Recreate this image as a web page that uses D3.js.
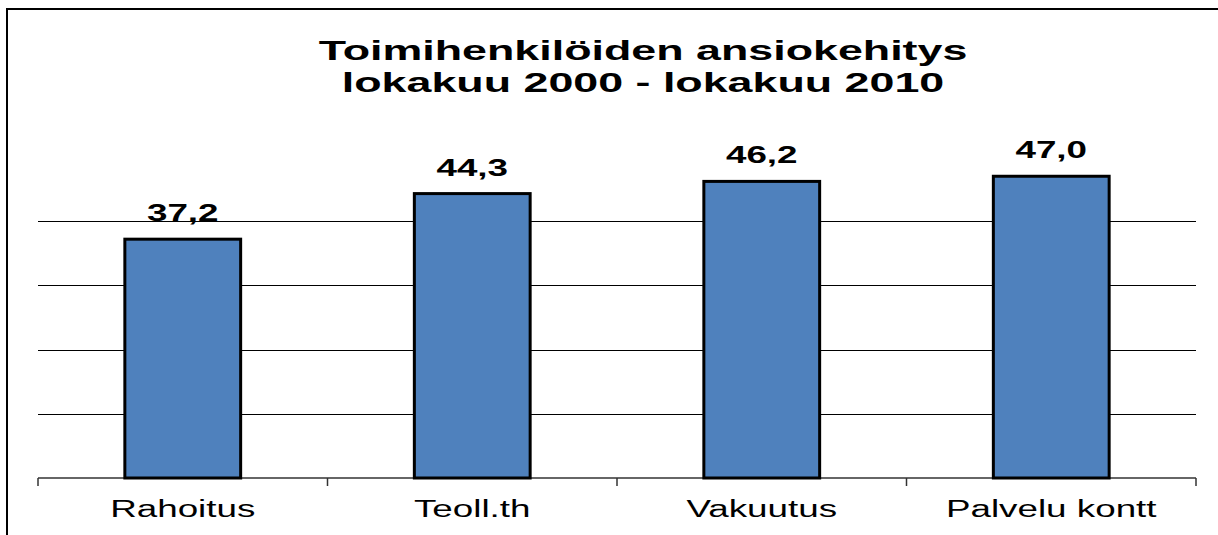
<!DOCTYPE html>
<html>
<head>
<meta charset="utf-8">
<script src="https://cdn.jsdelivr.net/npm/d3@7"></script>
<style>
  html, body { margin: 0; padding: 0; background: #fff; }
  svg { display: block; font-family: "Liberation Sans", Arial, sans-serif; }
</style>
</head>
<body>
<svg id="chart" width="1218" height="535"></svg>
<script>
const titleLines = ["Toimihenkilöiden ansiokehitys", "lokakuu 2000 - lokakuu 2010"];
const categories = ["Rahoitus", "Teoll.th", "Vakuutus", "Palvelu kontt"];
const values = [37.2, 44.3, 46.2, 47.0];
const gridValues = [10, 20, 30, 40];
const yDomain = [0, 50];

const svg = d3.select("#chart");
const W = 1218, H = 535;
const stretch = 1.6;

// outer border (left and top)
svg.append("path")
  .attr("d", `M7,${H} L7,9 L${W},9`)
  .attr("fill", "none")
  .attr("stroke", "#000")
  .attr("stroke-width", 2);

const x = d3.scaleBand().domain(categories).range([38, 1196]).paddingInner(0.6).paddingOuter(0.3);
const y = d3.scaleLinear().domain(yDomain).range([478, 157]);

// title
const tg = svg.append("g");
titleLines.forEach((t, i) => {
  tg.append("text")
    .attr("transform", `translate(643,${60 + i * 32}) scale(${stretch},1)`)
    .attr("text-anchor", "middle")
    .attr("font-size", 28)
    .attr("font-weight", "bold")
    .attr("fill", "#000")
    .text(t);
});

// gridlines
svg.append("g").selectAll("line").data(gridValues).join("line")
  .attr("x1", 38).attr("x2", 1196)
  .attr("y1", d => Math.round(y(d)) + 0.5).attr("y2", d => Math.round(y(d)) + 0.5)
  .attr("stroke", "#000").attr("stroke-width", 1);

// x axis baseline with ticks between categories
const tickPositions = categories.map(c => x(c) - x.step() * x.paddingInner() / 2 - (x.bandwidth() * 0) ).map((p, i) => 38 + i * x.step());
tickPositions.push(1196);
const axisG = svg.append("g");
axisG.append("line")
  .attr("x1", 38).attr("x2", 1196)
  .attr("y1", y(0)).attr("y2", y(0))
  .attr("stroke", "#333").attr("stroke-width", 1.5);
axisG.selectAll("line.tick").data(tickPositions).join("line")
  .attr("class", "tick")
  .attr("x1", d => d).attr("x2", d => d)
  .attr("y1", y(0)).attr("y2", y(0) + 8)
  .attr("stroke", "#333").attr("stroke-width", 1.5);

// bars
svg.append("g").selectAll("rect").data(values).join("rect")
  .attr("x", (d, i) => x(categories[i]))
  .attr("width", x.bandwidth())
  .attr("y", d => y(d))
  .attr("height", d => y(0) - y(d))
  .attr("fill", "#4F81BD")
  .attr("stroke", "#000")
  .attr("stroke-width", 3);

// value labels
svg.append("g").selectAll("text").data(values).join("text")
  .attr("transform", (d, i) => `translate(${x(categories[i]) + x.bandwidth() / 2},${y(d) - 18}) scale(${stretch},1)`)
  .attr("text-anchor", "middle")
  .attr("font-size", 23)
  .attr("font-weight", "bold")
  .attr("fill", "#000")
  .text(d => d.toFixed(1).replace(".", ","));

// category labels
svg.append("g").selectAll("text").data(categories).join("text")
  .attr("transform", d => `translate(${x(d) + x.bandwidth() / 2},517) scale(${stretch},1)`)
  .attr("text-anchor", "middle")
  .attr("font-size", 23)
  .attr("fill", "#000")
  .text(d => d);
</script>
</body>
</html>
